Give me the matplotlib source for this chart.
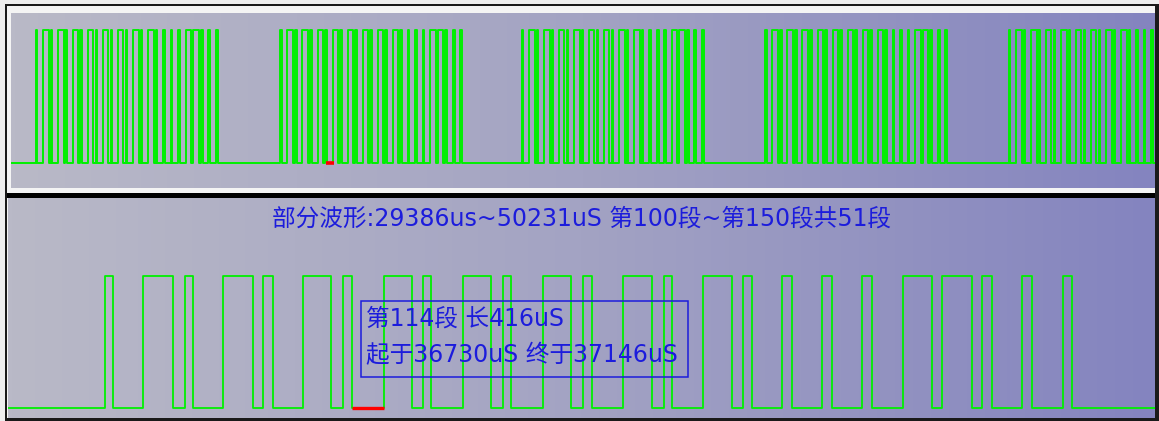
import numpy as np
import matplotlib
matplotlib.use("Agg")
import matplotlib.pyplot as plt
from matplotlib.colors import LinearSegmentedColormap
from matplotlib.patches import Rectangle

plt.rcParams['font.family'] = ['DejaVu Sans', 'Noto Sans CJK SC']

# segment lengths (uS) of one burst, segments 101..149, alternating high/low starting high
burst_durs = [104, 390, 390, 156, 104, 390, 390, 130, 130, 390,
              364, 156, 117, 416, 364, 143, 104, 416, 364, 156,
              104, 416, 364, 156, 117, 403, 377, 156, 104, 403,
              377, 143, 117, 390, 130, 390, 130, 390, 130, 403,
              377, 130, 390, 130, 130, 390, 130, 403, 117]

# start times (uS) of bursts seen in the overview
top_burst_starts = [16610, 33519, 50220, 67050, 83890]

sel_seg = 114
sel_start = 36730
sel_end = 37146
first_seg = 101

title_text = "部分波形:29386us~50231uS 第100段~第150段共51段"
info_line1 = "第114段 长416uS"
info_line2 = "起于36730uS 终于37146uS"

top_view = (14900, 94000)
bot_view = (32260, 47170)

W, H = 1159, 421
green = '#00f000'
red = '#ff0000'
blue = '#1c1cdc'
grad = LinearSegmentedColormap.from_list('panel', ['#b9b9c7', '#a3a3c3', '#8484bf'])


def frac(x0, y0, x1, y1):
    return [x0 / W, 1 - y1 / H, (x1 - x0) / W, (y1 - y0) / H]


def wave(starts, durs, lo, hi):
    ts, lv = [lo], [0]
    for s in starts:
        acc = s
        for i, d in enumerate(durs):
            ts.append(acc)
            lv.append(1 if i % 2 == 0 else 0)
            acc += d
        ts.append(acc)
        lv.append(0)
    ts.append(hi)
    lv.append(0)
    return ts, lv


fig = plt.figure(figsize=(W / 100, H / 100), dpi=100, facecolor='#eeeeee')

# window frame
fig.patches.append(Rectangle((5 / W, 0), 1 - 5 / W, 1 - 4 / H, transform=fig.transFigure,
                             facecolor='#1a1a1a', edgecolor='none', zorder=-3))
fig.patches.append(Rectangle((7 / W, 3 / H), 1148 / W, 1 - 9 / H, transform=fig.transFigure,
                             facecolor='#f4f4f4', edgecolor='none', zorder=-2))
fig.patches.append(Rectangle((7 / W, 1 - 198 / H), 1148 / W, 5 / H, transform=fig.transFigure,
                             facecolor='#000000', edgecolor='none', zorder=-1))

ax1 = fig.add_axes(frac(11, 13, 1155, 188))
ax2 = fig.add_axes(frac(8, 198, 1155, 418))

for ax in (ax1, ax2):
    ax.imshow(np.linspace(0, 1, 256).reshape(1, -1), cmap=grad, aspect='auto',
              extent=[0, 1, 0, 1], transform=ax.transAxes, zorder=0)
    ax.set_axis_off()

# overview
ts, lv = wave(top_burst_starts, burst_durs, *top_view)
ax1.step(ts, lv, where='post', color=green, lw=1.4, zorder=2)
ax1.plot([sel_start - 60, sel_end + 60], [0, 0], color=red, lw=2.6, solid_capstyle='butt', zorder=3)
ax1.set_xlim(top_view)
ax1.set_ylim(-25 / 133, 1 + 17 / 133)

# zoomed part
burst0 = sel_start - sum(burst_durs[:sel_seg - first_seg])
ts, lv = wave([burst0], burst_durs, *bot_view)
ax2.step(ts, lv, where='post', color=green, lw=1.3, zorder=2)
ax2.plot([sel_start, sel_end], [0, 0], color=red, lw=2.4, solid_capstyle='butt', zorder=3)
ax2.set_xlim(bot_view)
ax2.set_ylim(-10 / 132, 1 + 78 / 132)

ax2.text(0.5, 0.905, title_text, transform=ax2.transAxes, ha='center', va='center',
         fontsize=17, color=blue)
ax2.add_patch(Rectangle((353 / 1147, 41 / 220), 327 / 1147, 76 / 220, transform=ax2.transAxes,
                        facecolor='none', edgecolor=blue, lw=1.1, zorder=4))
ax2.text(358 / 1147, 0.45, info_line1, transform=ax2.transAxes, ha='left', va='center',
         fontsize=17, color=blue, zorder=5)
ax2.text(358 / 1147, 0.285, info_line2, transform=ax2.transAxes, ha='left', va='center',
         fontsize=17, color=blue, zorder=5)

fig.savefig('out.png', dpi=100, facecolor=fig.get_facecolor())
